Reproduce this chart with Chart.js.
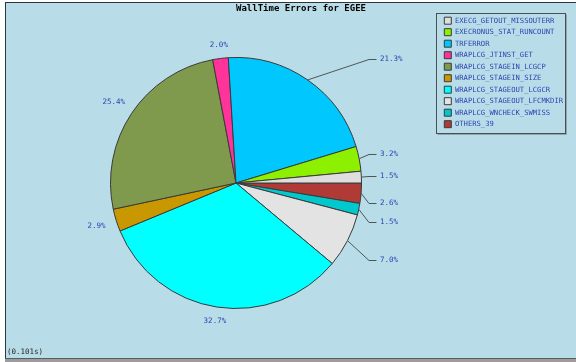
<!DOCTYPE html>
<html><head><meta charset="utf-8">
<script src="https://cdn.jsdelivr.net/npm/chart.js@4"></script>
<style>html,body{margin:0;padding:0;background:#fff}#wrap{width:576px;height:362px}</style>
</head><body><div id="wrap"><canvas id="c" width="576" height="362"></canvas></div>
<script>
const titleText = 'WallTime Errors for EGEE';
const footnote = '(0.101s)';
const categories = [
  'EXECG_GETOUT_MISSOUTERR',
  'EXECRONUS_STAT_RUNCOUNT',
  'TRFERROR',
  'WRAPLCG_JTINST_GET',
  'WRAPLCG_STAGEIN_LCGCP',
  'WRAPLCG_STAGEIN_SIZE',
  'WRAPLCG_STAGEOUT_LCGCR',
  'WRAPLCG_STAGEOUT_LFCMKDIR',
  'WRAPLCG_WNCHECK_SWMISS',
  'OTHERS_39'
];
const values = [1.5, 3.2, 21.3, 2.0, 25.4, 2.9, 32.7, 7.0, 1.5, 2.6];
const colors = ['#dedede', '#8cf000', '#00c8ff', '#ff3399', '#7f9a4d', '#c99700', '#00ffff', '#e3e3e3', '#00c8cc', '#b03a36'];

// pie drawn clockwise by the library; original goes counter-clockwise from east
const revCats = categories.slice().reverse();
const revVals = values.slice().reverse();
const revCols = colors.slice().reverse();

const MONO = "'DejaVu Sans Mono', 'Liberation Mono', monospace";
const LABEL_BLUE = '#2f45b3';

const bgPlugin = {
  id: 'bg',
  beforeDraw(chart) {
    const ctx = chart.ctx, W = chart.width, H = chart.height;
    ctx.save();
    ctx.fillStyle = '#ffffff'; ctx.fillRect(0, 0, W, H);
    ctx.fillStyle = '#b9dde8'; ctx.fillRect(5, 2, W - 5, H - 6);
    ctx.fillStyle = '#2c363c'; ctx.fillRect(5, 2, 1, H - 6); ctx.fillRect(5, 2, W - 5, 1);
    ctx.fillStyle = '#5c5c5c'; ctx.fillRect(5, H - 4, W - 5, 1);
    ctx.fillStyle = '#9c9c9c'; ctx.fillRect(5, H - 3, W - 5, 3);
    ctx.restore();
  },
  afterDraw(chart) {
    const ctx = chart.ctx;
    ctx.save();
    // legend frame
    const lg = chart.legend, hb = lg.legendHitBoxes;
    if (hb && hb.length) {
      const first = hb[0], last = hb[hb.length - 1];
      const x0 = Math.round(lg.left - 4) + 0.5, y0 = Math.round(first.top - 4) + 0.5;
      const x1 = Math.round(lg.right - 5) + 0.5, y1 = Math.round(last.top + last.height + 5) + 0.5;
      ctx.strokeStyle = '#8fa4ab'; ctx.lineWidth = 1;
      ctx.beginPath(); ctx.moveTo(x0 + 1, y1 + 1); ctx.lineTo(x1 + 1, y1 + 1); ctx.lineTo(x1 + 1, y0 + 1); ctx.stroke();
      ctx.strokeStyle = '#4a4f52';
      ctx.strokeRect(x0, y0, x1 - x0, y1 - y0);
    }
    // footnote
    ctx.font = '7.5px ' + MONO;
    ctx.fillStyle = '#222';
    ctx.textAlign = 'left'; ctx.textBaseline = 'middle';
    ctx.fillText(footnote, 7, 352);
    ctx.restore();
  }
};

const labelPlugin = {
  id: 'pctLabels',
  afterDatasetsDraw(chart) {
    const ctx = chart.ctx;
    const meta = chart.getDatasetMeta(0);
    const data = chart.data.datasets[0].data;
    const total = data.reduce((a, b) => a + b, 0);
    ctx.save();
    ctx.font = '7.5px ' + MONO;
    ctx.fillStyle = LABEL_BLUE;
    ctx.textBaseline = 'middle';
    meta.data.forEach((arc, i) => {
      const p = arc.getProps(['x', 'y', 'startAngle', 'endAngle', 'outerRadius'], true);
      const a = (p.startAngle + p.endAngle) / 2;
      const c = Math.cos(a), s = Math.sin(a);
      const R = p.outerRadius;
      const txt = (data[i] / total * 100).toFixed(1) + '%';
      if (c > 0.5) {
        const ex = p.x + R * c, ey = p.y + R * s;
        const ly = Math.round(p.y + (R + 25) * s + (s > 0.05 ? 8 : 0)) + 0.5;
        const kx = p.x + R + 7.5, hx = p.x + R + 15;
        ctx.strokeStyle = '#4e5558'; ctx.lineWidth = 1;
        ctx.beginPath(); ctx.moveTo(ex, ey); ctx.lineTo(kx, ly); ctx.lineTo(hx, ly); ctx.stroke();
        ctx.textAlign = 'left';
        ctx.fillText(txt, p.x + R + 18.5, ly);
      } else {
        const w = ctx.measureText(txt).width;
        const r = R + 12 + (w / 2) * Math.abs(c);
        ctx.textAlign = 'center';
        ctx.fillText(txt, p.x + r * c, p.y + r * s);
      }
    });
    ctx.restore();
  }
};

new Chart(document.getElementById('c'), {
  type: 'pie',
  data: {
    labels: revCats,
    datasets: [{
      data: revVals,
      backgroundColor: revCols,
      borderColor: '#3a3a3a',
      borderWidth: 1,
      hoverOffset: 0
    }]
  },
  options: {
    responsive: false,
    devicePixelRatio: 1,
    animation: false,
    events: [],
    rotation: 90,
    layout: { padding: { left: 32, right: 6, top: 3, bottom: 53 } },
    plugins: {
      title: {
        display: true,
        text: titleText,
        color: '#000',
        font: { family: MONO, size: 9, weight: 'bold' },
        padding: { top: 0, bottom: 43.2 }
      },
      legend: {
        display: true,
        position: 'right',
        align: 'start',
        reverse: true,
        maxWidth: 130,
        title: { display: true, text: ' ', font: { size: 1 }, padding: { top: 8.6, bottom: 0 } },
        labels: {
          boxWidth: 7,
          boxHeight: 7,
          padding: 4.3,
          color: LABEL_BLUE,
          font: { family: MONO, size: 7.2 }
        }
      },
      tooltip: { enabled: false }
    }
  },
  plugins: [bgPlugin, labelPlugin]
});
</script>
</body></html>
